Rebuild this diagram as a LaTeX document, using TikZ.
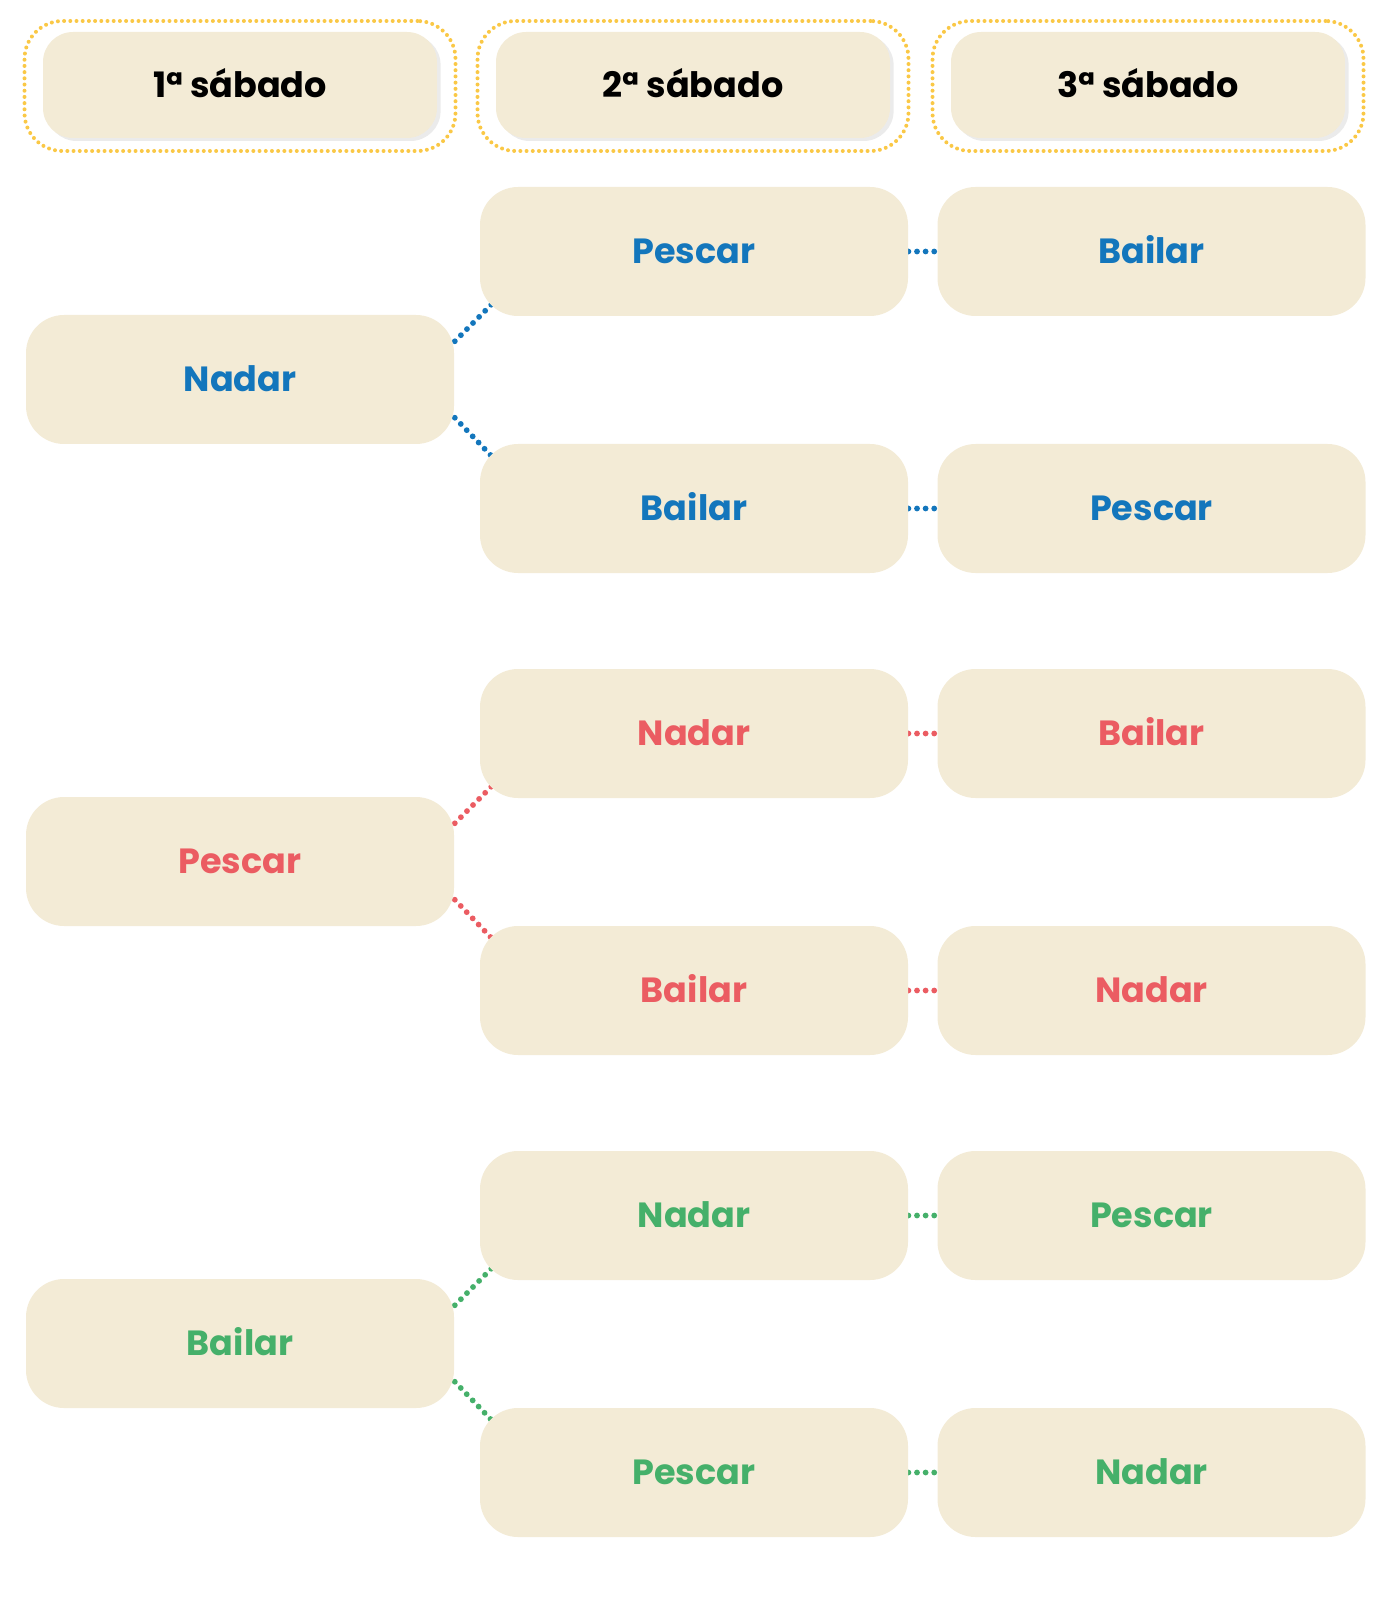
\documentclass[tikz,border=0pt]{standalone}
\usepackage{fontspec}
\setmainfont{Poppins}
\usepackage{tikz}
\usetikzlibrary{positioning,shadows,backgrounds}
\definecolor{areia}{HTML}{F3EBD6}
\definecolor{amarelo}{HTML}{FAC846}
\definecolor{azul}{HTML}{1376BC}
\definecolor{vermelho}{HTML}{EB5C62}
\definecolor{verde}{HTML}{45B06A}
\tikzset{
  cartao/.style={ fill=areia, rounded corners=19pt, minimum width=214pt, minimum height=64.5pt,
    inner sep=0pt, font=\fontsize{17.5}{21}\selectfont\bfseries, text height=12.3pt, text depth=0pt }
}
\tikzset{
  cabeca/.style={ cartao, rounded corners=15pt, minimum width=197pt, minimum height=53pt,
    drop shadow={shadow xshift=1.8pt, shadow yshift=-1.5pt, opacity=0.08, fill=black} }
}
\tikzset{
  moldura/.style={ draw=amarelo, line width=2pt, dash pattern=on 0pt off 3.1pt, line cap=round,
    rounded corners=19pt, minimum width=215.5pt, minimum height=65pt }
}
\tikzset{
  liga/.style={ line width=2.9pt, dash pattern=on 0pt off 4.3pt, line cap=round }
}

\begin{document}
\begin{tikzpicture}[x=0.5pt, y=-0.5pt]
      \useasboundingbox (0,0) rectangle (1390,1604);
      % cabecalhos
      \node[moldura] (m1) at (240, 86) {};
      \node[moldura] (m2) at (693, 86) {};
      \node[moldura] (m3) at (1148, 86) {};
      \node[cabeca] (sab1) at (240, 85) {1ª sábado};
      \node[cabeca] (sab2) at (693, 85) {2ª sábado};
      \node[cabeca] (sab3) at (1148, 85) {3ª sábado};
      % arvores
      \foreach \g/\cor/\a/\b/\c in {0/azul/Nadar/Pescar/Bailar, 1/vermelho/Pescar/Nadar/Bailar, 2/verde/Bailar/Nadar/Pescar}{
        \pgfmathsetmacro\yc{379.5+482*\g}
        \node[cartao, text=\cor] (um\g) at (240, \yc) {\a};
        \node[cartao, text=\cor] (doisA\g) at (694, \yc-128) {\b};
        \node[cartao, text=\cor] (doisB\g) at (694, \yc+129) {\c};
        \node[cartao, text=\cor] (tresA\g) at (1151.5, \yc-128) {\c};
        \node[cartao, text=\cor] (tresB\g) at (1151.5, \yc+129) {\b};
        \begin{scope}[on background layer]
          \draw[liga, draw=\cor, shorten <=-4pt, shorten >=-10pt] (um\g.10) -- (doisA\g.south west);
          \draw[liga, draw=\cor, shorten <=-4pt, shorten >=-10pt] (um\g.-10) -- (doisB\g.north west);
          \draw[liga, draw=\cor] (doisA\g.east) -- (tresA\g.west);
          \draw[liga, draw=\cor] (doisB\g.east) -- (tresB\g.west);
        \end{scope}
      }
    \end{tikzpicture}
\end{document}
